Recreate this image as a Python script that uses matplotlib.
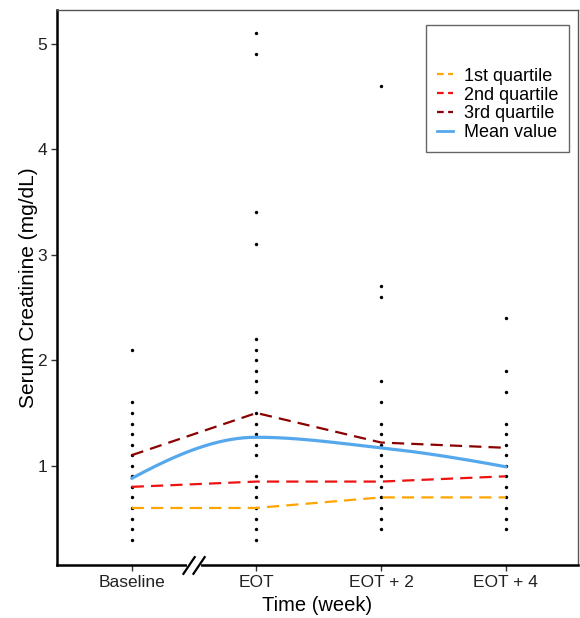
import numpy as np
import matplotlib
matplotlib.use("Agg")
import matplotlib.pyplot as plt
from matplotlib.lines import Line2D

plt.rcParams['font.family'] = ['Liberation Sans', 'DejaVu Sans']

# ---- data ----
categories = ["Baseline", "EOT", "EOT + 2", "EOT + 4"]
baseline_vals = [0.3, 0.4, 0.5, 0.6, 0.7, 0.8, 0.9, 1.0, 1.1, 1.2, 1.3, 1.4, 1.5, 1.6, 2.1]
eot_vals = [0.3, 0.4, 0.5, 0.6, 0.7, 0.8, 0.9, 1.1, 1.2, 1.3, 1.4, 1.5, 1.7, 1.8,
            1.9, 2.0, 2.1, 2.2, 3.1, 3.4, 4.9, 5.1]
eot2_vals = [0.4, 0.5, 0.6, 0.7, 0.8, 0.9, 1.0, 1.1, 1.2, 1.3, 1.4, 1.6, 1.8, 2.6, 2.7, 4.6]
eot4_vals = [0.4, 0.5, 0.6, 0.7, 0.8, 0.9, 1.0, 1.1, 1.2, 1.3, 1.4, 1.7, 1.9, 2.4]
q1 = [0.6, 0.6, 0.7, 0.7]
q2 = [0.8, 0.85, 0.85, 0.9]
q3 = [1.1, 1.5, 1.22, 1.17]
mean_vals = [0.88, 1.27, 1.17, 0.99]
y_ticks = [1, 2, 3, 4, 5]


def pchip(x, y, xs):
    """Monotone piecewise cubic Hermite interpolation (Fritsch-Carlson)."""
    x = np.asarray(x, float); y = np.asarray(y, float)
    h = np.diff(x); d = np.diff(y) / h
    n = len(x)
    m = np.zeros(n)
    for i in range(1, n - 1):
        if d[i - 1] * d[i] <= 0:
            m[i] = 0.0
        else:
            w1 = 2 * h[i] + h[i - 1]; w2 = h[i] + 2 * h[i - 1]
            m[i] = (w1 + w2) / (w1 / d[i - 1] + w2 / d[i])
    def end(h0, h1, d0, d1):
        v = ((2 * h0 + h1) * d0 - h0 * d1) / (h0 + h1)
        if np.sign(v) != np.sign(d0):
            v = 0.0
        elif np.sign(d0) != np.sign(d1) and abs(v) > abs(3 * d0):
            v = 3 * d0
        return v
    m[0] = end(h[0], h[1], d[0], d[1])
    m[-1] = end(h[-1], h[-2], d[-1], d[-2])
    out = np.empty_like(xs)
    for k, xv in enumerate(xs):
        i = min(max(np.searchsorted(x, xv) - 1, 0), n - 2)
        t = (xv - x[i]) / h[i]
        h00 = 2 * t**3 - 3 * t**2 + 1; h10 = t**3 - 2 * t**2 + t
        h01 = -2 * t**3 + 3 * t**2; h11 = t**3 - t**2
        out[k] = h00 * y[i] + h10 * h[i] * m[i] + h01 * y[i + 1] + h11 * h[i] * m[i + 1]
    return out


fig = plt.figure(figsize=(5.8, 6.18), dpi=100)
ax = fig.add_axes([0.098, 0.085, 0.899, 0.899])

xpos = np.arange(1, len(categories) + 1)
for xp, vals in zip(xpos, [baseline_vals, eot_vals, eot2_vals, eot4_vals]):
    ax.scatter([xp] * len(vals), vals, s=6, color="black", zorder=3, linewidths=0)

dash = (5.5, 3.2)
ax.plot(xpos, q1, color="#FFA500", lw=1.6, dashes=dash, zorder=4)
ax.plot(xpos, q2, color="#EE1111", lw=1.6, dashes=dash, zorder=4)
ax.plot(xpos, q3, color="#8B0000", lw=1.6, dashes=dash, zorder=4)
xs = np.linspace(1, 4, 300)
ax.plot(xs, pchip(xpos, mean_vals, xs), color="#56A8EC", lw=2.3, zorder=5,
        solid_capstyle="round")

ax.set_xlim(0.4, 4.58)
ax.set_ylim(0.055, 5.32)
ax.set_xticks(xpos)
ax.set_xticklabels(categories, fontsize=12.5)
ax.set_yticks(y_ticks)
ax.set_yticklabels([str(t) for t in y_ticks], fontsize=12.5)
ax.tick_params(axis="both", direction="out", length=4, width=1, color="#333333",
               labelcolor="#222222", pad=3)
ax.set_xlabel("Time (week)", fontsize=14.5, labelpad=4)
ax.set_ylabel("Serum Creatinine (mg/dL)", fontsize=15, labelpad=-0.5)

for s in ["left", "bottom"]:
    ax.spines[s].set_linewidth(1.8)
    ax.spines[s].set_color("black")
for s in ["top", "right"]:
    ax.spines[s].set_linewidth(1.0)
    ax.spines[s].set_color("#555555")

# axis break marks
trans = ax.get_xaxis_transform()
ax.plot([1.46, 1.54], [0.0, 0.0], transform=trans, color="white", lw=3, clip_on=False, zorder=6)
for dx in (-0.04, 0.04):
    ax.plot([1.5 + dx - 0.045, 1.5 + dx + 0.045], [-0.015, 0.015], transform=trans,
            color="black", lw=1.6, clip_on=False, zorder=7)

handles = [
    Line2D([], [], color="#FFA500", lw=1.6, dashes=(3, 2)),
    Line2D([], [], color="#EE1111", lw=1.6, dashes=(3, 2)),
    Line2D([], [], color="#8B0000", lw=1.6, dashes=(3, 2)),
    Line2D([], [], color="#56A8EC", lw=2.0),
]
leg = ax.legend(handles, ["1st quartile", "2nd quartile", "3rd quartile", "Mean value"],
                loc="upper right", bbox_to_anchor=(0.983, 0.973), borderaxespad=0,
                fontsize=13, title="\n", title_fontsize=11, handlelength=0.9,
                handletextpad=0.6, labelspacing=0.1, borderpad=0.6, fancybox=False,
                framealpha=1, edgecolor="#666666")
leg.get_frame().set_linewidth(1.0)

fig.savefig("out.png", dpi=100)
